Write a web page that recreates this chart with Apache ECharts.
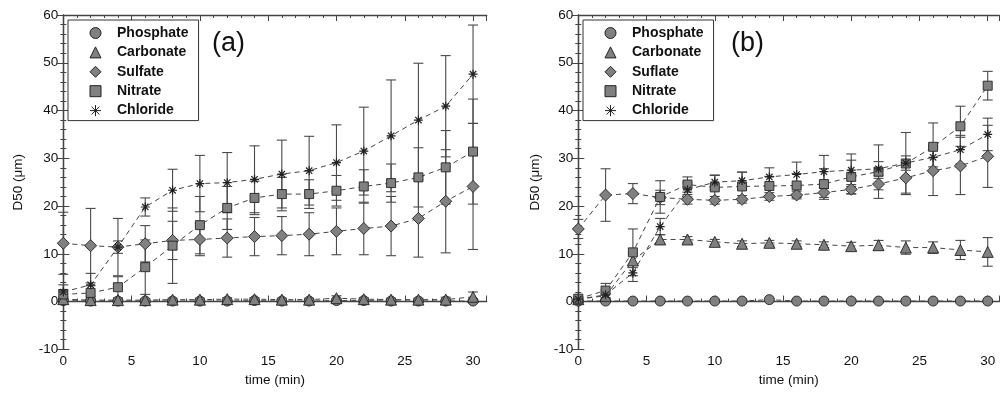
<!DOCTYPE html>
<html>
<head>
<meta charset="utf-8">
<script src="https://cdn.jsdelivr.net/npm/echarts@6/dist/echarts.min.js"></script>
<style>html,body{margin:0;padding:0;background:#fff}#c{width:1001px;height:395px}</style>
</head>
<body>
<div id="c"></div>
<script>
// ---- data ----
const times = [0,2,4,6,8,10,12,14,16,18,20,22,24,26,28,30];
const yTicks = [-10,0,10,20,30,40,50,60];
const xTicks = [0,5,10,15,20,25,30];

const namesA = ['Phosphate','Carbonate','Sulfate','Nitrate','Chloride'];
const namesB = ['Phosphate','Carbonate','Suflate','Nitrate','Chloride'];

// panel (a)
const aPhosphate    = [0.2,0.1,0.1,0.1,0.1,0.1,0.1,0.2,0.1,0.1,0.2,0.2,0.1,0.1,0.1,0.1];
const aPhosphateErr = [0.3,0.3,0.3,0.3,0.3,0.3,0.3,0.3,0.3,0.3,0.3,0.3,0.3,0.3,0.3,0.3];
const aCarbonate    = [0.5,0.3,0.3,0.3,0.4,0.4,0.5,0.5,0.4,0.4,0.7,0.5,0.4,0.4,0.4,1.0];
const aCarbonateErr = [0.5,0.3,0.3,0.3,0.3,0.3,0.3,0.3,0.3,0.3,0.5,0.3,0.3,0.3,0.5,1.0];
const aSulfate      = [12.2,11.7,11.4,12.1,12.8,13.0,13.3,13.6,13.8,14.1,14.7,15.3,15.8,17.4,21.0,24.1];
const aSulfateErr   = [6.5,7.8,1.3,3.8,4.0,3.4,4.0,4.0,4.0,4.5,4.9,5.5,6.2,8.1,10.8,13.2];
const aNitrate      = [1.5,1.8,3.0,7.2,11.7,16.0,19.6,21.7,22.5,22.5,23.2,24.1,24.8,26.0,28.1,31.4];
const aNitrateErr   = [1.0,1.5,2.2,5.7,7.9,6.0,4.5,3.5,3.5,3.0,3.2,3.5,4.0,6.2,7.7,11.0];
const aChloride     = [2.0,3.5,11.4,19.8,23.3,24.7,24.9,25.6,26.7,27.4,29.1,31.5,34.7,38.0,40.9,47.6];
const aChlorideErr  = [1.5,2.4,6.0,1.9,4.4,5.9,6.3,7.0,7.1,7.2,7.9,9.2,11.7,11.9,10.6,10.3];

// panel (b)
const bPhosphate    = [0.1,0.1,0.1,0.1,0.1,0.1,0.1,0.4,0.1,0.1,0.1,0.1,0.1,0.1,0.1,0.1];
const bPhosphateErr = [0.2,0.2,0.2,0.2,0.2,0.2,0.2,0.2,0.2,0.2,0.2,0.2,0.2,0.2,0.2,0.2];
const bCarbonate    = [0.5,1.2,8.6,13.0,13.0,12.5,12.1,12.3,12.1,11.9,11.6,11.8,11.3,11.3,10.8,10.4];
const bCarbonateErr = [0.3,0.5,1.5,1.0,0.6,0.5,0.6,0.5,0.6,0.6,0.8,1.0,1.4,1.2,2.0,3.0];
const bSulfate      = [15.2,22.3,22.6,21.8,21.4,21.2,21.4,22.0,22.3,22.8,23.5,24.6,25.9,27.4,28.4,30.4];
const bSulfateErr   = [2.0,5.5,2.1,1.5,1.0,0.8,0.8,0.8,0.8,1.0,1.0,1.2,3.2,5.2,6.0,6.5];
const bNitrate      = [0.6,2.3,10.3,21.9,24.5,23.9,24.1,24.2,24.3,24.6,26.1,27.2,28.9,32.4,36.7,45.2];
const bNitrateErr   = [0.4,1.5,4.9,3.4,1.6,2.5,3.0,2.0,2.5,3.2,3.5,5.6,6.5,5.0,4.2,3.0];
const bChloride     = [0.5,1.4,6.0,15.7,23.4,25.0,25.3,26.1,26.6,27.2,27.5,27.8,29.0,30.2,31.8,35.0];
const bChlorideErr  = [0.3,1.0,1.8,1.7,1.5,1.5,1.8,1.9,2.6,3.4,3.4,1.5,1.5,2.0,3.0,3.4];

// ---- styles ----
const FONT = 'Liberation Sans, Arial, Helvetica, sans-serif';
const ASTER = 'path://M5,0L5,10M0,5L10,5M1.46,1.46L8.54,8.54M1.46,8.54L8.54,1.46';
const symbols = ['circle','triangle','diamond','rect',ASTER];
const sizes = [10,11,12,9,9];
const FILL = '#808080', EDGE = '#222';

function errRender(params, api) {
  const x = api.value(0), y = api.value(1), e = api.value(2);
  const top = api.coord([x, y + e]), bot = api.coord([x, y - e]);
  const hw = 5;
  const style = {stroke: '#4a4a4a', lineWidth: 1.1, fill: null};
  return {type: 'group', children: [
    {type: 'line', shape: {x1: top[0], y1: top[1], x2: bot[0], y2: bot[1]}, style: style},
    {type: 'line', shape: {x1: top[0]-hw, y1: top[1], x2: top[0]+hw, y2: top[1]}, style: style},
    {type: 'line', shape: {x1: bot[0]-hw, y1: bot[1], x2: bot[0]+hw, y2: bot[1]}, style: style}
  ]};
}

function panelSeries(names, vals, errs, xi, yi) {
  const out = [];
  names.forEach(function (nm, k) {
    const pts = times.map(function (tt, i) { return [tt, vals[k][i]]; });
    const ep = times.map(function (tt, i) { return [tt, vals[k][i], errs[k][i]]; });
    out.push({type: 'custom', name: nm + ' err', xAxisIndex: xi, yAxisIndex: yi, z: 2,
      renderItem: errRender, encode: {x: 0, y: 1}, data: ep, silent: true});
    out.push({type: 'line', name: nm + ' line', xAxisIndex: xi, yAxisIndex: yi, z: 3,
      data: pts, symbol: 'none', silent: true,
      lineStyle: {color: '#444', width: 1, type: [5, 4]}});
    out.push({type: 'scatter', name: nm, xAxisIndex: xi, yAxisIndex: yi, z: 4,
      data: pts, symbol: symbols[k], symbolSize: sizes[k],
      itemStyle: {color: k === 4 ? '#555' : FILL, borderColor: EDGE, borderWidth: k === 4 ? 1.2 : 0.9, opacity: 1}});
  });
  return out;
}

function xAxes(grid, max) {
  const common = {gridIndex: grid, type: 'value', min: 0, max: max};
  return [
    Object.assign({}, common, {position: 'bottom', interval: 5,
      name: 'time (min)', nameLocation: 'middle', nameGap: 23,
      nameTextStyle: {color: '#111', fontSize: 13.5, fontFamily: FONT},
      axisLine: {show: true, lineStyle: {color: '#444', width: 1.3}},
      axisTick: {show: true, inside: true, length: 6, lineStyle: {color: '#444', width: 1}},
      axisLabel: {show: true, margin: 5, color: '#111', fontSize: 13.5, fontFamily: FONT,
        formatter: function (v) { return xTicks.indexOf(v) >= 0 ? String(v) : ''; }},
      splitLine: {show: false}}),
    Object.assign({}, common, {position: 'bottom', interval: 1,
      axisLine: {show: false}, axisLabel: {show: false}, splitLine: {show: false},
      axisTick: {show: true, inside: true, length: 3, lineStyle: {color: '#444', width: 1}}}),
    Object.assign({}, common, {position: 'top', interval: 5,
      axisLine: {show: true, lineStyle: {color: '#444', width: 1.3}}, axisLabel: {show: false}, splitLine: {show: false},
      axisTick: {show: true, inside: true, length: 6, lineStyle: {color: '#444', width: 1}}}),
    Object.assign({}, common, {position: 'top', interval: 1,
      axisLine: {show: false}, axisLabel: {show: false}, splitLine: {show: false},
      axisTick: {show: true, inside: true, length: 3, lineStyle: {color: '#444', width: 1}}})
  ];
}

function yAxes(grid, gap) {
  const common = {gridIndex: grid, type: 'value', min: yTicks[0], max: yTicks[yTicks.length-1], interval: 10,
    splitLine: {show: false},
    minorTick: {show: true, splitNumber: 5, length: 3, lineStyle: {color: '#444', width: 1}},
    axisTick: {show: true, inside: true, length: 6, lineStyle: {color: '#444', width: 1}},
    axisLine: {show: true, lineStyle: {color: '#444', width: 1.3}}};
  return [
    Object.assign({}, common, {position: 'left', name: 'D50 (μm)', nameLocation: 'middle', nameGap: gap, nameRotate: 90,
      nameTextStyle: {color: '#111', fontSize: 13.5, fontFamily: FONT},
      axisLabel: {show: true, margin: 5, color: '#111', fontSize: 13.5, fontFamily: FONT}}),
    Object.assign({}, common, {position: 'right', axisLabel: {show: false}})
  ];
}

function legend(names, left) {
  return {
    left: left, top: 20, orient: 'vertical',
    data: names.slice(),
    backgroundColor: '#fff', borderColor: '#333', borderWidth: 1, borderRadius: 0,
    padding: [6, 10, 3, 21.5], itemGap: 5.4, itemWidth: 11, itemHeight: 11,
    symbolKeepAspect: true,
    itemStyle: {borderColor: EDGE, borderWidth: 1},
    textStyle: {color: '#111', fontSize: 14, fontWeight: 'bold', fontFamily: FONT, lineHeight: 14,
      padding: [0, 0, 0, 11]},
    selectedMode: false
  };
}

const series = []
  .concat(panelSeries(namesA, [aPhosphate, aCarbonate, aSulfate, aNitrate, aChloride],
    [aPhosphateErr, aCarbonateErr, aSulfateErr, aNitrateErr, aChlorideErr], 0, 0))
  .concat(panelSeries(namesB, [bPhosphate, bCarbonate, bSulfate, bNitrate, bChloride],
    [bPhosphateErr, bCarbonateErr, bSulfateErr, bNitrateErr, bChlorideErr], 4, 2));

const option = {
  animation: false,
  backgroundColor: '#fff',
  textStyle: {fontFamily: FONT},
  title: [
    {text: '(a)', left: 207, top: 25, textStyle: {fontSize: 27, fontWeight: 'normal', color: '#111', fontFamily: FONT}},
    {text: '(b)', left: 726, top: 25, textStyle: {fontSize: 27, fontWeight: 'normal', color: '#111', fontFamily: FONT}}
  ],
  grid: [
    {left: 63.3, right: 514.3, top: 15, bottom: 45.7, containLabel: false, outerBoundsMode: 'none'},
    {left: 578.3, right: 1.7, top: 15, bottom: 45.7, containLabel: false, outerBoundsMode: 'none'}
  ],
  legend: [legend(namesA, 68), legend(namesB, 583)],
  xAxis: xAxes(0, 31).concat(xAxes(1, 30.85)),
  yAxis: yAxes(0, 38).concat(yAxes(1, 36)),
  series: series
};

const chart = echarts.init(document.getElementById('c'), null, {renderer: 'canvas'});
chart.setOption(option);
</script>
</body>
</html>
